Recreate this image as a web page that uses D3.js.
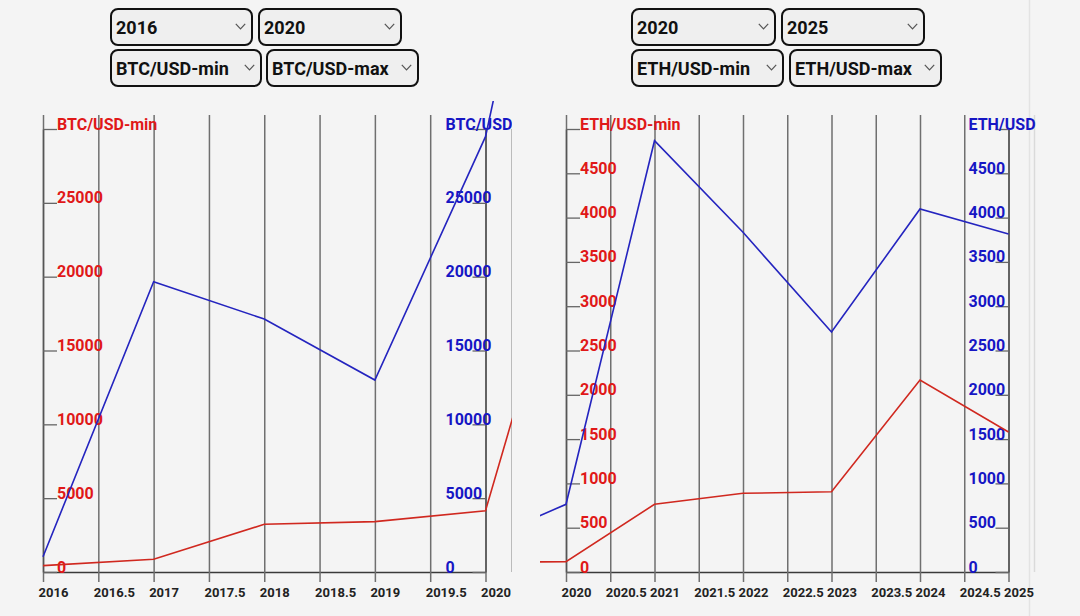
<!DOCTYPE html>
<html><head><meta charset="utf-8">
<script src="https://cdn.jsdelivr.net/npm/d3@7"></script>
<style>
html,body{margin:0;padding:0;background:#f4f4f4;width:1080px;height:616px;overflow:hidden;font-family:Roboto,"Noto Sans",sans-serif;}
.sel{position:absolute;box-sizing:border-box;border:2.5px solid #111;border-radius:8px;background:#efefef;height:38px;}
.sel select{appearance:none;-webkit-appearance:none;border:none;background:transparent;font-family:Roboto,sans-serif;font-weight:bold;font-size:18px;color:#111;width:100%;height:100%;padding:0 0 0 4px;margin:0;outline:none;}
.sel svg{position:absolute;right:5px;top:13px;pointer-events:none;}
svg.chart{position:absolute;top:101px;}
svg.bg{position:absolute;left:0;top:0;}
</style></head><body>
<script>
// ---- data ----
const btcYears = [2016, 2017, 2018, 2019, 2020, 2021];
const btcMin   = [430, 860, 3230, 3410, 4150, 29800];
const btcMax   = [1030, 19660, 17130, 13000, 29480, 64000];
const ethYears = [2019, 2020, 2021, 2022, 2023, 2024, 2025];
const ethMin   = [110, 116, 764, 888, 906, 2167, 1580];
const ethMax   = [330, 764, 4868, 3834, 2709, 4097, 3815];
const btcXTicks = [2016, 2016.5, 2017, 2017.5, 2018, 2018.5, 2019, 2019.5, 2020];
const btcYTicks = [0, 5000, 10000, 15000, 20000, 25000, 30000];
const ethXTicks = [2020, 2020.5, 2021, 2021.5, 2022, 2022.5, 2023, 2023.5, 2024, 2024.5, 2025];
const ethYTicks = [0, 500, 1000, 1500, 2000, 2500, 3000, 3500, 4000, 4500, 5000];
const yearOptions = ["2016","2017","2018","2019","2020","2021","2022","2023","2024","2025"];
const btcSeriesOptions = ["BTC/USD-min","BTC/USD-max"];
const ethSeriesOptions = ["ETH/USD-min","ETH/USD-max"];

const RED_LINE = "#d0281f", RED_TEXT = "#e01818";
const BLUE_LINE = "#2424bf", BLUE_TEXT = "#1616c4";

// background decorative lines
const bg = d3.select("body").append("svg").attr("class","bg").attr("width",1080).attr("height",616);
bg.append("line").attr("x1",1029.5).attr("x2",1029.5).attr("y1",0).attr("y2",616).attr("stroke","#e3e3e3").attr("stroke-width",1.5);
bg.append("line").attr("x1",1034.5).attr("x2",1034.5).attr("y1",115).attr("y2",572).attr("stroke","#dadada").attr("stroke-width",1.5);

// ---- selects ----
function addSelect(left, top, width, options, value){
  const div = d3.select("body").append("div").attr("class","sel")
    .style("left", left+"px").style("top", top+"px").style("width", width+"px");
  const s = div.append("select");
  s.selectAll("option").data(options).join("option").attr("value", d=>d).text(d=>d);
  s.property("value", value);
  const c = div.append("svg").attr("width",11).attr("height",7);
  c.append("path").attr("d","M0.8,0.8 L5.5,5.8 L10.2,0.8").attr("fill","none").attr("stroke","#555").attr("stroke-width",1.2);
}
addSelect(110, 8, 143, yearOptions, "2016");
addSelect(258, 8, 144, yearOptions, "2020");
addSelect(110, 49, 152, btcSeriesOptions, "BTC/USD-min");
addSelect(266, 49, 153, btcSeriesOptions, "BTC/USD-max");
addSelect(631, 8, 145, yearOptions, "2020");
addSelect(781, 8, 144, yearOptions, "2025");
addSelect(631, 49, 153, ethSeriesOptions, "ETH/USD-min");
addSelect(789, 49, 153, ethSeriesOptions, "ETH/USD-max");

// ---- charts ----
function drawChart(cfg){
  const svg = d3.select("body").append("svg").attr("class","chart")
    .style("left", cfg.left+"px").attr("width", cfg.width).attr("height", 515);
  const x = d3.scaleLinear().domain(d3.extent(cfg.xTicks)).range([26, 468.5]);
  const y = d3.scaleLinear().domain(d3.extent(cfg.yTicks)).range([471, 28]);

  // x axis with grid
  const gx = svg.append("g").attr("transform","translate(0,471)")
    .call(d3.axisBottom(x).tickValues(cfg.xTicks).tickSizeOuter(0).tickFormat(d=>String(d)));
  gx.select(".domain").attr("stroke","#3a3a3a").attr("stroke-width",1.5);
  const nT = cfg.xTicks.length;
  gx.selectAll(".tick line").attr("stroke","#6f6f6f").attr("stroke-width",1.5)
    .attr("y1",10).attr("y2",(d,i)=> i===nT-1 ? -443 : -457);
  gx.selectAll(".tick text").attr("text-anchor","start").attr("x",-5).attr("y",25).attr("dy",null)
    .attr("fill","#222").style("font-family","Roboto, sans-serif").style("font-weight","bold").style("font-size","13px");

  // left y axis (min series, red)
  const nY = cfg.yTicks.length;
  const gl = svg.append("g").attr("transform","translate(26,0)")
    .call(d3.axisRight(y).tickValues(cfg.yTicks).tickSize(14).tickSizeOuter(0)
      .tickFormat((d,i)=> i===nY-1 ? cfg.minLabel : String(d)));
  gl.select(".domain").attr("stroke","#555").attr("stroke-width",1.5);
  gl.selectAll(".tick line").attr("stroke","#666").attr("stroke-width",1.3);
  gl.selectAll(".tick text").attr("x",14).attr("dy",0).attr("fill",RED_TEXT)
    .style("font-family","Roboto, sans-serif").style("font-weight","bold").style("font-size","16px");

  // right y axis (max series, blue)
  const gr = svg.append("g").attr("transform","translate(468.5,0)")
    .call(d3.axisLeft(y).tickValues(cfg.yTicks).tickSize(13).tickSizeOuter(0)
      .tickFormat((d,i)=> i===nY-1 ? cfg.maxLabel : String(d)));
  gr.select(".domain").attr("stroke","#555").attr("stroke-width",1.5);
  gr.selectAll(".tick line").attr("stroke","#666").attr("stroke-width",1.3);
  gr.selectAll(".tick text").attr("x",-40).attr("dy",0).attr("text-anchor","start").attr("fill",BLUE_TEXT)
    .style("font-family","Roboto, sans-serif").style("font-weight","bold").style("font-size","16px");

  if (cfg.edgeLine) {
    svg.append("line").attr("x1",495).attr("x2",495).attr("y1",28).attr("y2",471)
      .attr("stroke","#a8a8a8").attr("stroke-width",1.5);
  }

  const line = d3.line().x(d=>x(d[0])).y(d=>y(d[1]));
  svg.append("path").datum(cfg.years.map((yr,i)=>[yr, cfg.minVals[i]]))
    .attr("d", line).attr("fill","none").attr("stroke",RED_LINE).attr("stroke-width",1.6);
  svg.append("path").datum(cfg.years.map((yr,i)=>[yr, cfg.maxVals[i]]))
    .attr("d", line).attr("fill","none").attr("stroke",BLUE_LINE).attr("stroke-width",1.6);
}

drawChart({left:17, width:495, xTicks:btcXTicks, yTicks:btcYTicks, years:btcYears,
  minVals:btcMin, maxVals:btcMax, minLabel:"BTC/USD-min", maxLabel:"BTC/USD", edgeLine:true});
drawChart({left:540, width:497, xTicks:ethXTicks, yTicks:ethYTicks, years:ethYears,
  minVals:ethMin, maxVals:ethMax, minLabel:"ETH/USD-min", maxLabel:"ETH/USD", edgeLine:false});
</script>
</body></html>
